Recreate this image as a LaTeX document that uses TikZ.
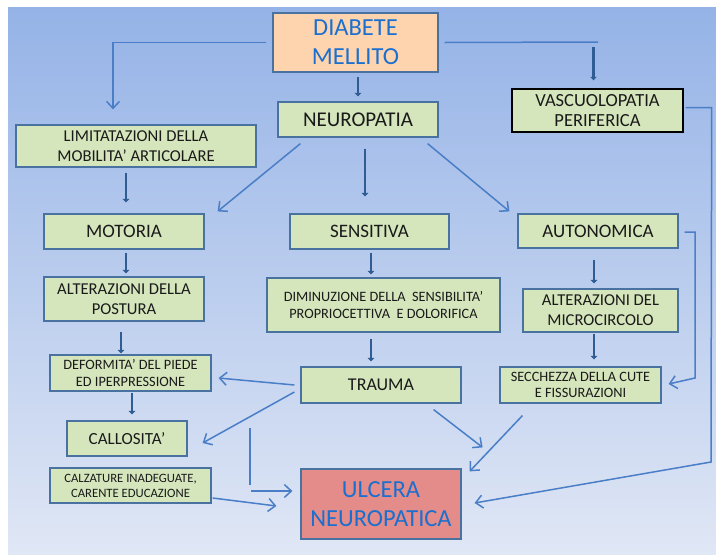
\documentclass[tikz,border=0pt]{standalone}
\usepackage{fontspec}
\setmainfont{Carlito}
\usetikzlibrary{arrows.meta}
\definecolor{bgtop}{HTML}{95B3E7}
\definecolor{bgbot}{HTML}{E0E7F5}
\definecolor{boxfill}{HTML}{D5E5BC}
\definecolor{boxedge}{HTML}{4A72A0}
\definecolor{darkarr}{HTML}{2F5C92}
\definecolor{lightarr}{HTML}{4A7EC7}
\definecolor{titleblue}{HTML}{1B6FCF}
\definecolor{peach}{HTML}{FDD4AE}
\definecolor{rosso}{HTML}{E38C89}
\definecolor{txt}{HTML}{1A1A1A}
\begin{document}
\begin{tikzpicture}[x=1pt,y=-1pt,
  box/.style={draw=boxedge, line width=1.2pt, fill=boxfill, inner sep=0pt, align=center, text=txt},
  darr/.style={draw=darkarr, line width=2.6pt, -{Triangle[width=6.5pt,length=3.5pt]}},
  larr/.style={draw=lightarr, line width=1.5pt, -{Straight Barb[length=7pt,width=13pt]}},
  lline/.style={draw=lightarr, line width=1.5pt},
  fa/.style={font=\fontsize{19}{20}\selectfont},
  fb/.style={font=\fontsize{16.6}{20}\selectfont},
  fc/.style={font=\fontsize{14.3}{16.5}\selectfont},
  fd/.style={font=\fontsize{12.7}{15}\selectfont},
  big/.style={font=\fontsize{24.5}{29}\selectfont, text=titleblue}]
\useasboundingbox (0,0) rectangle (716,555);
\shade[top color=bgtop, bottom color=bgbot] (8,7) rectangle (716,555);

\node[box, big, fill=peach, minimum width=165pt, minimum height=59pt] (diab) at (355.5,42.5) {DIABETE\\MELLITO};
\node[box, font=\fontsize{21}{22}\selectfont, minimum width=160pt, minimum height=35pt] (neuro) at (358,119.5) {NEUROPATIA};
\node[box, font=\fontsize{18.5}{20}\selectfont, draw=black, line width=1.4pt, minimum width=171pt, minimum height=43pt] (vasc) at (597.5,110.5) {VASCUOLOPATIA\\PERIFERICA};
\node[box, fb, minimum width=240pt, minimum height=42pt] (limit) at (136,146) {LIMITATAZIONI DELLA\\MOBILITA' ARTICOLARE};
\node[box, fa, minimum width=160pt, minimum height=35pt] (motoria) at (124,231.5) {MOTORIA};
\node[box, fa, minimum width=159pt, minimum height=35pt] (sens) at (369.5,231.5) {SENSITIVA};
\node[box, fa, minimum width=160pt, minimum height=34pt] (auto) at (598,231) {AUTONOMICA};
\node[box, fb, minimum width=160pt, minimum height=44pt] (postura) at (124,299) {ALTERAZIONI DELLA\\POSTURA};
\node[box, fc, minimum width=233pt, minimum height=54pt] (dimin) at (383.5,305) {DIMINUZIONE DELLA\ \ SENSIBILITA'\\PROPRIOCETTIVA\ \ E DOLORIFICA};
\node[box, fb, minimum width=155pt, minimum height=43pt] (micro) at (600.5,310.5) {ALTERAZIONI DEL\\MICROCIRCOLO};
\node[box, fc, minimum width=161pt, minimum height=36pt] (deform) at (130.5,373) {DEFORMITA' DEL PIEDE\\ED IPERPRESSIONE};
\node[box, fa, font=\fontsize{18}{20}\selectfont, minimum width=160pt, minimum height=36pt] (trauma) at (381,385) {TRAUMA};
\node[box, fc, minimum width=161pt, minimum height=36pt] (secch) at (580.5,385) {SECCHEZZA DELLA CUTE\\E FISSURAZIONI};
\node[box, font=\fontsize{17}{18}\selectfont, minimum width=120pt, minimum height=35pt] (callo) at (127,438.5) {CALLOSITA'};
\node[box, fd, minimum width=161pt, minimum height=35pt] (calz) at (130.5,485.5) {CALZATURE INADEGUATE,\\CARENTE EDUCAZIONE};
\node[box, big, fill=rosso, minimum width=160pt, minimum height=70pt] (ulcera) at (381,504) {ULCERA\\NEUROPATICA};

\coordinate (dright) at (598,42);
\coordinate (vcorner) at (711,462);
\coordinate (acorner) at (695,378);
\coordinate (vtop) at (250,428);
\coordinate (vbot) at (250,485);
\coordinate (hstart) at (251,491);

% from diabete
\draw[larr] ([shift={(-6,0)}]diab.west) -| ([shift={(-23,-15)}]limit.north);
\draw[lline] ([shift={(6,0)}]diab.east) -- (dright);
\draw[darr] ([shift={(-4,-41)}]vasc.north) -- ([shift={(-4,-8)}]vasc.north);
\draw[darr] ([shift={(2.5,4)}]diab.south) -- ([shift={(0,-5)}]neuro.north);

% neuropatia
\draw[darr] ([shift={(-10,5)}]limit.south) -- ([shift={(2,-11)}]motoria.north);
\draw[larr] ([shift={(23,6)}]neuro.south west) -- ([shift={(13,-2)}]motoria.north east);
\draw[darr] ([shift={(7,11)}]neuro.south) -- ([shift={(-4.5,-17)}]sens.north);
\draw[larr] ([shift={(-11,6)}]neuro.south east) -- ([shift={(-8,-2)}]auto.north west);

% second level
\draw[darr] ([shift={(2,3)}]motoria.south) -- ([shift={(2,-3)}]postura.north);
\draw[darr] ([shift={(1.5,3)}]sens.south) -- ([shift={(-12.5,-3)}]dimin.north);
\draw[darr] ([shift={(-4,11)}]auto.south) -- ([shift={(-6.5,-5)}]micro.north);
\draw[darr] ([shift={(-3,10)}]postura.south) -- ([shift={(-9.5,-1)}]deform.north);
\draw[darr] ([shift={(1.5,1)}]deform.south) -- ([shift={(5,-6)}]callo.north);
\draw[darr] ([shift={(-6.5,1)}]micro.south) -- ([shift={(13.5,-7)}]secch.north);
\draw[darr] ([shift={(-12.5,6)}]dimin.south) -- ([shift={(-10,-5)}]trauma.north);

% trauma
\draw[larr] ([shift={(-6,0)}]trauma.west) -- ([shift={(7,5)}]deform.east);
\draw[larr] ([shift={(-6,7)}]trauma.west) -- ([shift={(15,4.5)}]callo.east);
\draw[lline] (vtop) -- (vbot);
\draw[larr] (hstart) -- ([shift={(-8,-13)}]ulcera.west);
\draw[larr] ([shift={(1,12.5)}]calz.east) -- ([shift={(-24,2)}]ulcera.west);
\draw[larr] ([shift={(-28,6)}]trauma.south east) -- ([shift={(21,-21)}]ulcera.north east);
\draw[larr] ([shift={(23,12)}]secch.south west) -- ([shift={(8,3)}]ulcera.north east);

% right side
\draw[larr] ([shift={(2,-3)}]vasc.east) -- ++(26,0) -- (vcorner) -- ([shift={(13,-1)}]ulcera.east);
\draw[larr] ([shift={(6,1)}]auto.east) -| (acorner) -- ([shift={(7,-1)}]secch.east);
\end{tikzpicture}
\end{document}
